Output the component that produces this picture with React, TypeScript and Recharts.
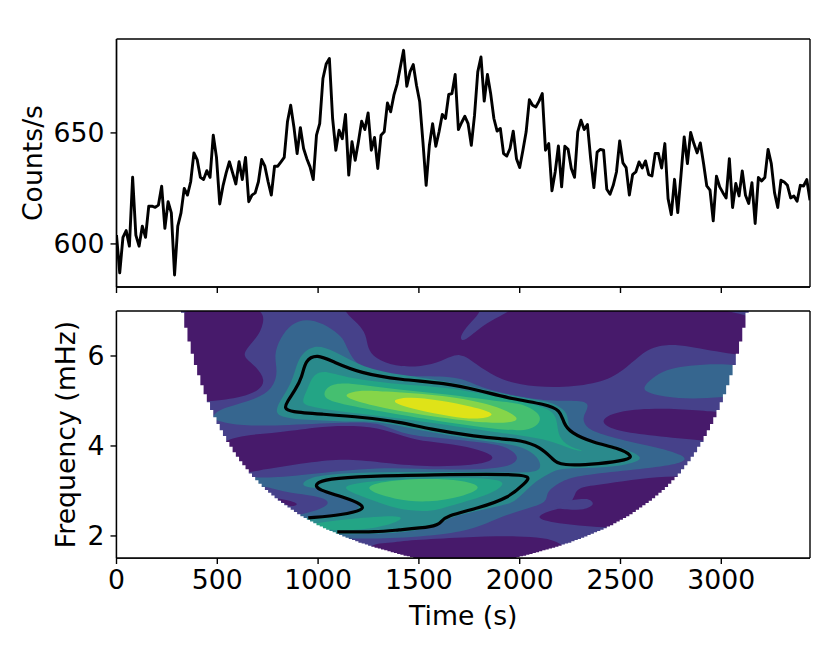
import { ComposedChart, Line, Scatter, XAxis, YAxis } from 'recharts';

// light curve, one value per 16 s bin
const counts = [
  604, 587, 603, 606, 599, 630, 604, 599, 608, 603, 617, 617, 616.5, 617.5, 626, 607, 619, 614, 586, 608,
  614, 625, 622, 628, 641, 638, 630, 629, 633, 630, 649, 639, 618, 626, 632, 637, 632, 627, 637, 629,
  639, 619, 622, 623, 628, 638, 635, 628, 622, 635, 635, 637, 639, 655,
  662.5, 652.7, 640.7, 652.4, 643, 638.4, 634.7, 629, 649, 654.2, 674.5, 681, 683.5, 656.5, 642.2, 651.2,
  647.4, 658.3, 631, 646, 637.7, 646, 655.3, 651.5, 659, 642.2, 648, 634, 649, 650.5, 663.5, 659.5,
  667, 672, 679.7, 687.2, 671, 677.5, 680.8, 671.5, 664, 646, 626.4, 644.4, 654.2, 644, 650.5, 658.3,
  656.5, 667.3, 667.7, 676.3, 651.5, 654.7, 657.5,
  654.2, 644.4, 658, 677.5, 684.2, 664.3, 676.3, 667.7, 656.5, 650.8, 652, 640.7, 639.6, 643, 650.8, 638.4,
  634.4, 642.2, 650.5, 665, 662.5, 661.7, 664.3, 667.7, 642.2, 645.2, 623.9, 632.4, 644.1, 625.7, 644, 642.6,
  634, 630, 650.5, 655.7, 651.5, 653.8, 638.4, 625.4, 641.4, 642.6, 642.2, 624.6, 622.4, 626.4, 632.4, 646.4,
  636.5, 634.4, 622, 631.2, 632.4, 636.9,
  634.2, 637.4, 631.2, 630.6, 640.7, 640.7, 634.2, 645.2, 620.4, 613.2, 629.1, 614.1, 630.9, 648.2, 636.2, 650.2,
  645.2, 641, 645.5, 636.2, 626.1, 624.2, 610.4, 630.5, 625.7, 623.1, 620.7, 638.4, 616.4, 627.2, 621.6, 632.9,
  621.9, 618.2, 627.6, 609.2, 629.9, 628.4, 629.9, 642.6, 636.2, 623.1, 616.4, 628.7, 627.9, 626.4, 620.7, 621.6,
  619.2, 626.4, 626.1, 629, 619.7,
];
const binSeconds = 16;
const timeTicks = [0, 500, 1000, 1500, 2000, 2500, 3000];
const countTicks = [600, 650];
const freqTicks = [2, 4, 6];
const timeMax = 3440;
const countDomain = [580.6, 692.3];
const freqDomain = [1.51, 7];

// cone of influence, frequency (mHz) per time bin from bin 20 to bin 92, mirrored on the right
const coneFreq = [
  6.96, 6.63, 6.32, 6.05, 5.8, 5.57, 5.35, 5.15, 4.97, 4.8, 4.64, 4.49, 4.35, 4.22, 4.09, 3.98, 3.86, 3.76, 3.66, 3.57,
  3.48, 3.39, 3.31, 3.24, 3.16, 3.09, 3.02, 2.96, 2.9, 2.84, 2.78, 2.73, 2.68, 2.63, 2.58, 2.53, 2.48, 2.44, 2.4, 2.36,
  2.32, 2.28, 2.24, 2.21, 2.17, 2.14, 2.11, 2.08, 2.05, 2.02, 1.99, 1.96, 1.93, 1.91, 1.88, 1.85, 1.83, 1.81, 1.78, 1.76,
  1.74, 1.72, 1.7, 1.68, 1.66, 1.64, 1.62, 1.6, 1.58, 1.56, 1.55, 1.53, 1.51,
];

type Pt = [number, number];

// contour regions as [time s, frequency mHz]
const field: Pt[] = [[-50, 7.3], [3500, 7.3], [3500, 1.3], [-50, 1.3]];
const lowTopLeft: Pt[] = [[214, 7.21], [732, 7.21], [732, 6.69], [694, 6.39], [631, 6.1], [636, 5.95], [694, 5.76], [740, 5.46], [710, 5.24], [628, 5.09], [462, 4.98], [214, 4.94]];
const lowTopMiddle: Pt[] = [[1116, 7.3], [1132, 6.95], [1199, 6.73], [1240, 6.47], [1245, 6.17], [1281, 5.95], [1381, 5.76], [1513, 5.76], [1613, 5.87], [1704, 6.11], [1786, 5.8], [1878, 5.54], [1993, 5.35], [2192, 5.28], [2397, 5.39], [2513, 5.65], [2629, 6.17], [2729, 6.26], [2828, 6.23], [3060, 6.02], [3292, 5.95], [3292, 7.3]];
const lowRightLower: Pt[] = [[2275, 2.96], [2298, 3.09], [2430, 3.16], [2596, 3.27], [2770, 3.35], [2960, 3.27], [2960, 2.3], [2546, 2.16], [2414, 2.19], [2298, 2.23], [2159, 2.3], [2068, 2.41], [2159, 2.59], [2250, 2.64]];
const lowRightUpper: Pt[] = [[2397, 4.53], [2447, 4.72], [2579, 4.83], [2795, 4.83], [2960, 4.76], [3043, 4.76], [3043, 4.07], [2886, 4.13], [2629, 4.24], [2464, 4.35]];
const lowBottom: Pt[] = [[1232, 1.82], [1348, 1.84], [1464, 1.91], [1712, 1.97], [1993, 2.01], [2242, 1.93], [2242, 1.19], [1232, 1.19]];
const tongueTop: Pt[] = [[1811, 7.3], [1811, 7], [1762, 6.77], [1712, 6.51], [1705, 6.37], [1725, 6.32], [1795, 6.6], [1878, 6.84], [1969, 7.03], [1993, 7.3]];
const tongueRight: Pt[] = [[2192, 2.75], [2323, 2.84], [2348, 2.81], [2372, 2.71], [2339, 2.62], [2298, 2.57], [2159, 2.6]];
const midMain: Pt[] = [[429, 4.65], [545, 4.87], [694, 5.04], [777, 5.28], [801, 5.65], [780, 6.02], [810, 6.39], [868, 6.73], [942, 6.83], [1025, 6.73], [1108, 6.47], [1132, 6.32], [1165, 5.95], [1232, 5.69], [1348, 5.58], [1464, 5.54], [1695, 5.56], [1795, 5.32], [1927, 5.15], [2159, 4.98], [2298, 5.02], [2351, 4.93], [2315, 4.68], [2315, 4.5], [2364, 4.3], [2546, 4.09], [2712, 3.94], [2811, 3.79], [2828, 3.68], [2763, 3.57], [2546, 3.46], [2298, 3.35], [2209, 3.23], [2126, 2.97], [2143, 2.75], [2027, 2.6], [1878, 2.38], [1795, 2.19], [1630, 2.02], [1298, 1.93], [1132, 1.95], [992, 1.93], [628, 2.38], [595, 3.42]];
const midRightBlob: Pt[] = [[2609, 5.31], [2684, 5.62], [2798, 5.8], [3195, 5.87], [3195, 5.13], [2997, 5.09], [2862, 5.04], [2713, 5.09], [2624, 5.2]];
const holeMiddle: Pt[] = [[429, 4.68], [498, 4.57], [595, 4.45], [793, 4.45], [1158, 4.53], [1298, 4.53], [1414, 4.27], [1546, 4.2], [1795, 4.09], [1927, 4.01], [1993, 3.79], [1985, 3.64], [1911, 3.49], [1629, 3.46], [1298, 3.55], [926, 3.35], [719, 3.27], [595, 3.35], [462, 3.79]];
const holeLower: Pt[] = [[710, 3.16], [826, 2.97], [959, 2.91], [1042, 2.83], [1055, 2.7], [1008, 2.59], [934, 2.49], [793, 2.38], [628, 2.97]];
const lowBand: Pt[] = [[462, 4.2], [793, 4.28], [992, 4.42], [1132, 4.46], [1298, 4.42], [1430, 4.2], [1546, 4.09], [1712, 4.02], [1828, 3.87], [1878, 3.75], [1844, 3.64], [1762, 3.57], [1546, 3.53], [1298, 3.64], [1132, 3.72], [959, 3.64], [677, 3.44], [545, 3.31]];
const lowSliver: Pt[] = [[793, 2.84], [859, 2.79], [909, 2.71], [868, 2.64], [835, 2.71], [802, 2.81]];
const tealMain: Pt[] = [[777, 4.8], [876, 5.4], [896, 5.96], [976, 6.27], [1075, 6.13], [1224, 5.73], [1408, 5.58], [1631, 5.44], [1795, 5.29], [1964, 5.11], [2127, 5], [2187, 4.91], [2242, 4.73], [2237, 4.42], [2286, 4.2], [2386, 4.09], [2500, 3.98], [2634, 3.73], [2535, 3.58], [2401, 3.51], [2202, 3.51], [2152, 3.4], [2063, 3.18], [1979, 2.75], [1919, 2.69], [1795, 2.56], [1631, 2.4], [1611, 2.22], [1467, 2.1], [1298, 2.04], [1090, 2.03], [911, 2.11], [886, 2.36], [951, 2.42], [1125, 2.49], [1214, 2.6], [1194, 2.73], [1125, 2.91], [1000, 3.07], [926, 3.09], [921, 3.2], [995, 3.36], [1244, 3.42], [1557, 3.42], [1879, 3.42], [2043, 3.4], [2113, 3.47], [2093, 3.76], [2018, 3.98], [1904, 4.07], [1795, 4.13], [1547, 4.31], [1298, 4.56], [1174, 4.53], [926, 4.58], [812, 4.64]];
const greenUpper: Pt[] = [[916, 4.98], [946, 5.24], [976, 5.62], [1045, 5.67], [1144, 5.51], [1408, 5.36], [1631, 5.31], [1795, 5.18], [1964, 5.02], [2167, 4.84], [2187, 4.51], [2192, 4.2], [2242, 3.98], [2336, 3.87], [2261, 3.91], [2152, 4.13], [2003, 4.24], [1904, 4.29], [1631, 4.47], [1408, 4.62], [1174, 4.73], [946, 4.87]];
const greenLower: Pt[] = [[1085, 3.09], [1244, 3.22], [1557, 3.29], [1929, 3.29], [1914, 3.09], [1845, 2.91], [1631, 2.64], [1557, 2.53], [1393, 2.58], [1244, 2.84]];
const greenBlob: Pt[] = [[995, 2.29], [1159, 2.38], [1408, 2.47], [1423, 2.36], [1308, 2.18], [1095, 2.09], [936, 2.22]];
const brightUpper: Pt[] = [[1020, 5.13], [1050, 5.36], [1144, 5.42], [1408, 5.24], [1631, 5.16], [1904, 4.98], [2003, 4.96], [2103, 4.73], [2103, 4.51], [2053, 4.36], [1954, 4.33], [1631, 4.53], [1408, 4.69], [1224, 4.84], [1060, 4.98]];
const brightLower: Pt[] = [[1200, 3.07], [1343, 3.24], [1557, 3.28], [1715, 3.24], [1830, 3.09], [1715, 2.87], [1547, 2.74], [1383, 2.8]];
const limeUpper: Pt[] = [[1115, 5.13], [1194, 5.24], [1298, 5.22], [1631, 5.13], [1879, 4.91], [2008, 4.62], [1964, 4.51], [1795, 4.51], [1408, 4.76], [1194, 4.98]];
const peak: Pt[] = [[1340, 5], [1447, 5.1], [1596, 5.02], [1765, 4.88], [1900, 4.7], [1795, 4.58], [1666, 4.65], [1482, 4.8]];

// significance contours
const contourUpper: Pt[] = [[832, 4.84], [846, 4.98], [886, 5.24], [921, 5.53], [936, 5.91], [995, 6.04], [1075, 5.87], [1209, 5.62], [1408, 5.47], [1631, 5.4], [1795, 5.24], [1964, 5.04], [2127, 4.93], [2202, 4.8], [2217, 4.51], [2252, 4.29], [2366, 4.07], [2485, 3.96], [2564, 3.78], [2535, 3.69], [2401, 3.6], [2202, 3.56], [2167, 3.69], [2103, 3.98], [2003, 4.13], [1904, 4.16], [1795, 4.2], [1547, 4.38], [1408, 4.53], [1224, 4.64], [1010, 4.71], [861, 4.76]];
const contourLower: Pt[] = [[951, 2.4], [951, 2.4], [1125, 2.47], [1224, 2.58], [1224, 2.69], [1125, 2.87], [1000, 3.02], [981, 3.16], [1045, 3.27], [1244, 3.33], [1557, 3.36], [1994, 3.38], [2053, 3.31], [2028, 3.18], [1944, 2.84], [1795, 2.62], [1631, 2.44], [1611, 2.31], [1581, 2.2], [1383, 2.13], [1298, 2.09], [1095, 2.09], [1095, 2.09]];

const level0 = '#471a6b';
const level1 = '#46418a';
const level2 = '#36668f';
const level3 = '#2a8a8c';
const level4 = '#23a585';
const level5 = '#45bf70';
const level6 = '#86d549';
const level7 = '#dfe318';

const fills: [Pt[], string][] = [
  [field, level1],
  [lowTopLeft, level0],
  [lowTopMiddle, level0],
  [lowRightLower, level0],
  [lowRightUpper, level0],
  [lowBottom, level0],
  [tongueTop, level1],
  [tongueRight, level1],
  [midMain, level2],
  [midRightBlob, level2],
  [holeMiddle, level1],
  [holeLower, level1],
  [lowBand, level0],
  [lowSliver, level0],
  [tealMain, level3],
  [greenUpper, level4],
  [greenLower, level4],
  [greenBlob, level4],
  [brightUpper, level5],
  [brightLower, level5],
  [limeUpper, level6],
  [peak, level7],
];

const lightCurve = counts.map((value, i) => ({ time: i * binSeconds, value }));

// everything outside the cone is blanked with a stepped white region
const coneMask = [
  { t: -50, f: 7.3 },
  { t: 20 * binSeconds, f: 7.3 },
  ...coneFreq.map((f, i) => ({ t: (20 + i) * binSeconds, f })),
  ...[...coneFreq].reverse().map((f, i) => ({ t: (123 + i) * binSeconds, f })),
  { t: 196 * binSeconds, f: 7.3 },
  { t: 3500, f: 7.3 },
  { t: 3500, f: 1.3 },
  { t: -50, f: 1.3 },
];

const noDot = () => <g />;
const toPoints = (pts: Pt[]) => pts.map(([t, f]) => ({ t, f }));
const blankLabel = () => '';
const tickStyle = { fontSize: 26.7, fontFamily: 'DejaVu Sans', fill: '#000' };
const axisLine = { stroke: '#000', strokeWidth: 1.4 };
const tickLine = { stroke: '#000', strokeWidth: 1.4 };
const layer = { position: 'absolute', left: 0, top: 0 } as const;

// the spines go in a separate chart on top, so the contours don't cover them
function Frame({ height, top, bottom, yDomain }: { height: number; top: number; bottom: number; yDomain: number[] }) {
  return (
    <div style={layer}>
      <ComposedChart width={830} height={height} margin={{ top: top - 1, right: 19, bottom: 0, left: 0 }}>
        <XAxis type="number" domain={[0, timeMax]} height={bottom} tick={false} tickLine={false} axisLine={axisLine} />
        <YAxis type="number" domain={yDomain} width={116.5} tick={false} tickLine={false} axisLine={axisLine} />
        <XAxis xAxisId="top" orientation="top" type="number" domain={[0, timeMax]} height={1} tick={false} tickLine={false} axisLine={axisLine} />
        <YAxis yAxisId="right" orientation="right" type="number" domain={yDomain} width={1} tick={false} tickLine={false} axisLine={axisLine} />
      </ComposedChart>
    </div>
  );
}

export default function App() {
  return (
    <div style={{ position: 'absolute', left: 0, top: 0, width: 830, height: 649, background: '#fff' }}>
      <div style={layer}>
        <ComposedChart width={830} height={320} data={lightCurve} margin={{ top: 39, right: 20, bottom: 0, left: 0 }}>
          <XAxis dataKey="time" type="number" domain={[0, timeMax]} ticks={timeTicks} tickFormatter={blankLabel} tickSize={6} height={33} axisLine={axisLine} tickLine={tickLine} allowDataOverflow />
          <YAxis
            type="number"
            domain={countDomain}
            ticks={countTicks}
            width={116.5}
            tickSize={6}
            tickMargin={6}
            tick={tickStyle}
            axisLine={axisLine}
            tickLine={tickLine}
            allowDataOverflow
            label={{ value: 'Counts/s', angle: -90, position: 'center', dx: -26, style: tickStyle }}
          />
          <Line dataKey="value" stroke="#000" strokeWidth={2.9} dot={false} isAnimationActive={false} strokeLinejoin="round" />
        </ComposedChart>
      </div>
      <Frame height={320} top={39} bottom={33} yDomain={countDomain} />
      <div style={layer}>
        <ComposedChart width={830} height={649} margin={{ top: 311, right: 20, bottom: 0, left: 0 }}>
          <XAxis
            dataKey="t"
            type="number"
            domain={[0, timeMax]}
            ticks={timeTicks}
            height={91}
            tickSize={6}
            tickMargin={6}
            tick={tickStyle}
            axisLine={axisLine}
            tickLine={tickLine}
            allowDataOverflow
            label={{ value: 'Time (s)', position: 'center', dy: 12, style: tickStyle }}
          />
          <YAxis
            dataKey="f"
            type="number"
            domain={freqDomain}
            ticks={freqTicks}
            width={116.5}
            tickSize={6}
            tickMargin={6}
            tick={tickStyle}
            axisLine={axisLine}
            tickLine={tickLine}
            allowDataOverflow
            label={{ value: 'Frequency (mHz)', angle: -90, position: 'center', dx: 7, style: tickStyle }}
          />
          {fills.map(([pts, color], i) => (
            <Scatter
              key={i}
              data={toPoints(pts)}
              shape={noDot}
              line={{ fill: color, stroke: 'none' }}
              lineJointType={pts === field ? 'linearClosed' : 'basisClosed'}
              isAnimationActive={false}
            />
          ))}
          <Scatter data={coneMask} shape={noDot} line={{ fill: '#fff', stroke: 'none' }} lineJointType="stepAfter" isAnimationActive={false} />
          <Scatter data={toPoints(contourUpper)} shape={noDot} line={{ fill: 'none', stroke: '#000', strokeWidth: 3.2 }} lineJointType="basisClosed" isAnimationActive={false} />
          <Scatter data={toPoints(contourLower)} shape={noDot} line={{ fill: 'none', stroke: '#000', strokeWidth: 3.2 }} lineJointType="basis" isAnimationActive={false} />
        </ComposedChart>
      </div>
      <Frame height={649} top={311} bottom={91} yDomain={freqDomain} />
    </div>
  );
}
